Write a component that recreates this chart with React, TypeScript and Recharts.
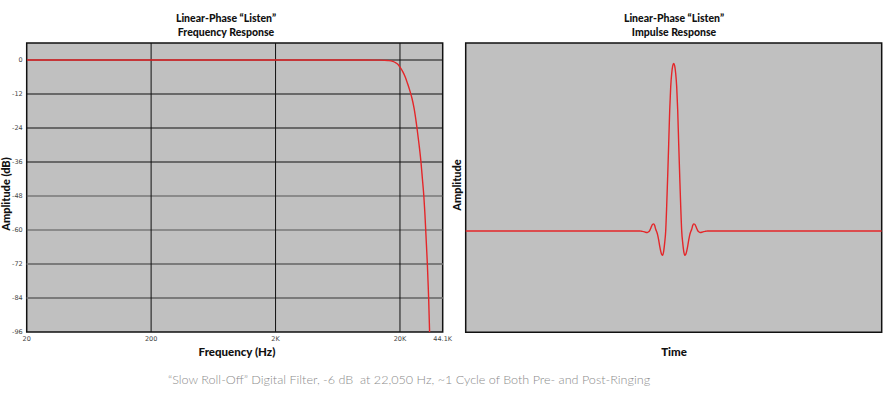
import {
  LineChart,
  Line,
  XAxis,
  YAxis,
  CartesianGrid,
  ReferenceLine,
  ReferenceArea,
} from 'recharts'

// frequency response (log Hz vs dB)
const freqHz = [20, 200, 2000, 10000, 14000, 16000, 17500, 18500, 19300, 20000, 21000, 22050, 23000, 24000, 25000, 26000, 27400, 28500, 29500, 30300, 31100, 31700, 32200, 32700, 33200, 33600, 34000, 34300, 34600]
const magDb = [0, 0, 0, 0, -0.05, -0.2, -0.5, -1.0, -1.6, -2.5, -4.0, -6.0, -8.3, -10.8, -13.6, -17.2, -24, -30, -36, -42, -48, -54, -60, -66, -72, -78, -84, -90, -96]

const dbTicks = [0, -12, -24, -36, -48, -60, -72, -84, -96]
const hzTicks = [20, 200, 2000, 20000, 44100]
const hzLabels = ['20', '200', '2K', '20K', '44.1K']
const dbGridColors = ['#111', '#111', '#111', '#111', '#555', '#555', '#7a7a7a', '#7a7a7a']
const dbGridWidths = [1, 1, 1, 1, 1.2, 1.2, 2, 2]

// impulse response (time in arbitrary units, amplitude normalised)
const timeT = [0, 174, 176, 178, 179, 180, 181, 182, 183, 184, 185, 186, 187, 188, 189, 190, 191, 192, 193, 194, 195, 196, 197, 198, 199, 200, 201, 202, 203, 204, 205, 206, 207, 208, 209, 210, 211, 212, 213, 214, 215, 216, 217, 218, 219, 220, 221, 222, 223, 224, 225, 226, 227, 228, 229, 230, 231, 232, 233, 234, 235, 236, 237, 238, 240, 242, 416]
const ampV = [0, 0, -0.002, -0.004, -0.006, -0.008, -0.009, -0.008, -0.005, 0.002, 0.015, 0.03, 0.04, 0.042, 0.032, 0.01, -0.005, -0.025, -0.055, -0.09, -0.12, -0.14, -0.145, -0.12, -0.07, 0.0, 0.15, 0.33, 0.52, 0.72, 0.86, 0.94, 0.985, 1.0, 0.985, 0.94, 0.86, 0.72, 0.52, 0.33, 0.15, 0.0, -0.07, -0.12, -0.145, -0.14, -0.12, -0.09, -0.055, -0.025, -0.005, 0.01, 0.032, 0.042, 0.04, 0.03, 0.015, 0.002, -0.005, -0.008, -0.009, -0.008, -0.006, -0.004, -0.002, 0, 0]

const freqData = freqHz.map((f, i) => ({ f, db: magDb[i] }))
const impulseData = timeT.map((t, i) => ({ t, a: ampV[i] }))

const RED = '#e42629'
const titleFont = 'Lato, "Open Sans", sans-serif'
const tickStyle = { fill: '#444', fontSize: 6.5, fontFamily: '"DejaVu Sans", sans-serif' }

const abs = (style: React.CSSProperties): React.CSSProperties => ({ position: 'absolute', ...style })

export default function App() {
  return (
    <div style={{ position: 'fixed', left: 0, top: 0, width: 884, height: 394, background: '#fff', overflow: 'hidden' }}>
      {/* titles */}
      <div style={abs({ left: 126, top: 12, width: 200, textAlign: 'center', fontFamily: titleFont, fontWeight: 900, fontSize: 10.5, lineHeight: '13.5px', color: '#111' })}>
        Linear-Phase “Listen”<br />Frequency Response
      </div>
      <div style={abs({ left: 574, top: 12, width: 200, textAlign: 'center', fontFamily: titleFont, fontWeight: 900, fontSize: 10.5, lineHeight: '13.5px', color: '#111' })}>
        Linear-Phase “Listen”<br />Impulse Response
      </div>

      <LineChart width={460} height={394} data={freqData} margin={{ top: 43, right: 17.3, bottom: 42, left: 0 }} style={abs({ left: 0, top: 0 })}>
        <CartesianGrid fill="#c0c0c0" fillOpacity={1} horizontal={false} vertical={false} />
        <XAxis
          dataKey="f"
          type="number"
          scale="log"
          domain={[20, 44100]}
          ticks={hzTicks}
          tickFormatter={(v: number) => hzLabels[hzTicks.indexOf(v)] ?? String(v)}
          tick={tickStyle}
          axisLine={false}
          tickLine={false}
          tickSize={0}
          tickMargin={4}
          height={20}
          allowDataOverflow
        />
        <YAxis
          type="number"
          domain={[-96, 6]}
          ticks={dbTicks}
          tick={tickStyle}
          axisLine={false}
          tickLine={false}
          tickSize={0}
          tickMargin={4}
          width={26.7}
          allowDataOverflow
        />
        {dbTicks.slice(0, 8).map((v, i) => (
          <ReferenceLine key={v} y={v} stroke={dbGridColors[i]} strokeWidth={dbGridWidths[i]} />
        ))}
        {[200, 2000, 20000].map((v) => (
          <ReferenceLine key={v} x={v} stroke="#111" strokeWidth={1} />
        ))}
        <ReferenceArea x1={20} x2={44100} y1={-96} y2={6} fill="none" fillOpacity={0} stroke="#111" strokeWidth={1.5} />
        <Line type="monotone" dataKey="db" stroke={RED} strokeWidth={1.4} dot={false} isAnimationActive={false} />
      </LineChart>

      <LineChart width={424} height={394} data={impulseData} margin={{ top: 43, right: 2.3, bottom: 61.7, left: 5.7 }} style={abs({ left: 460, top: 0 })}>
        <CartesianGrid fill="#c0c0c0" fillOpacity={1} horizontal={false} vertical={false} />
        <XAxis dataKey="t" type="number" domain={[0, 416]} hide />
        <YAxis type="number" domain={[-0.605, 1.122]} hide allowDataOverflow />
        <ReferenceArea x1={0} x2={416} y1={-0.605} y2={1.122} fill="none" fillOpacity={0} stroke="#111" strokeWidth={1.5} />
        <Line type="monotone" dataKey="a" stroke={RED} strokeWidth={1.4} dot={false} isAnimationActive={false} />
      </LineChart>

      {/* axis titles */}
      <div style={abs({ left: 137, top: 345, width: 200, textAlign: 'center', fontFamily: titleFont, fontWeight: 900, fontSize: 11.5, color: '#111' })}>
        Frequency (Hz)
      </div>
      <div style={abs({ left: 574, top: 345, width: 200, textAlign: 'center', fontFamily: titleFont, fontWeight: 900, fontSize: 11.5, color: '#111' })}>
        Time
      </div>
      <div style={abs({ left: -94, top: 187, width: 200, textAlign: 'center', fontFamily: titleFont, fontWeight: 900, fontSize: 11, color: '#111', transform: 'rotate(-90deg)', lineHeight: '14px' })}>
        Amplitude (dB)
      </div>
      <div style={abs({ left: 357, top: 178, width: 200, textAlign: 'center', fontFamily: titleFont, fontWeight: 900, fontSize: 11, color: '#111', transform: 'rotate(-90deg)', lineHeight: '14px' })}>
        Amplitude
      </div>

      {/* caption */}
      <div style={abs({ left: 109, top: 372, width: 600, textAlign: 'center', fontFamily: titleFont, fontWeight: 300, fontSize: 12.6, color: '#8c8c8c' })}>
        “Slow Roll-Off” Digital Filter, -6 dB&nbsp; at 22,050 Hz, ~1 Cycle of Both Pre- and Post-Ringing
      </div>
    </div>
  )
}
